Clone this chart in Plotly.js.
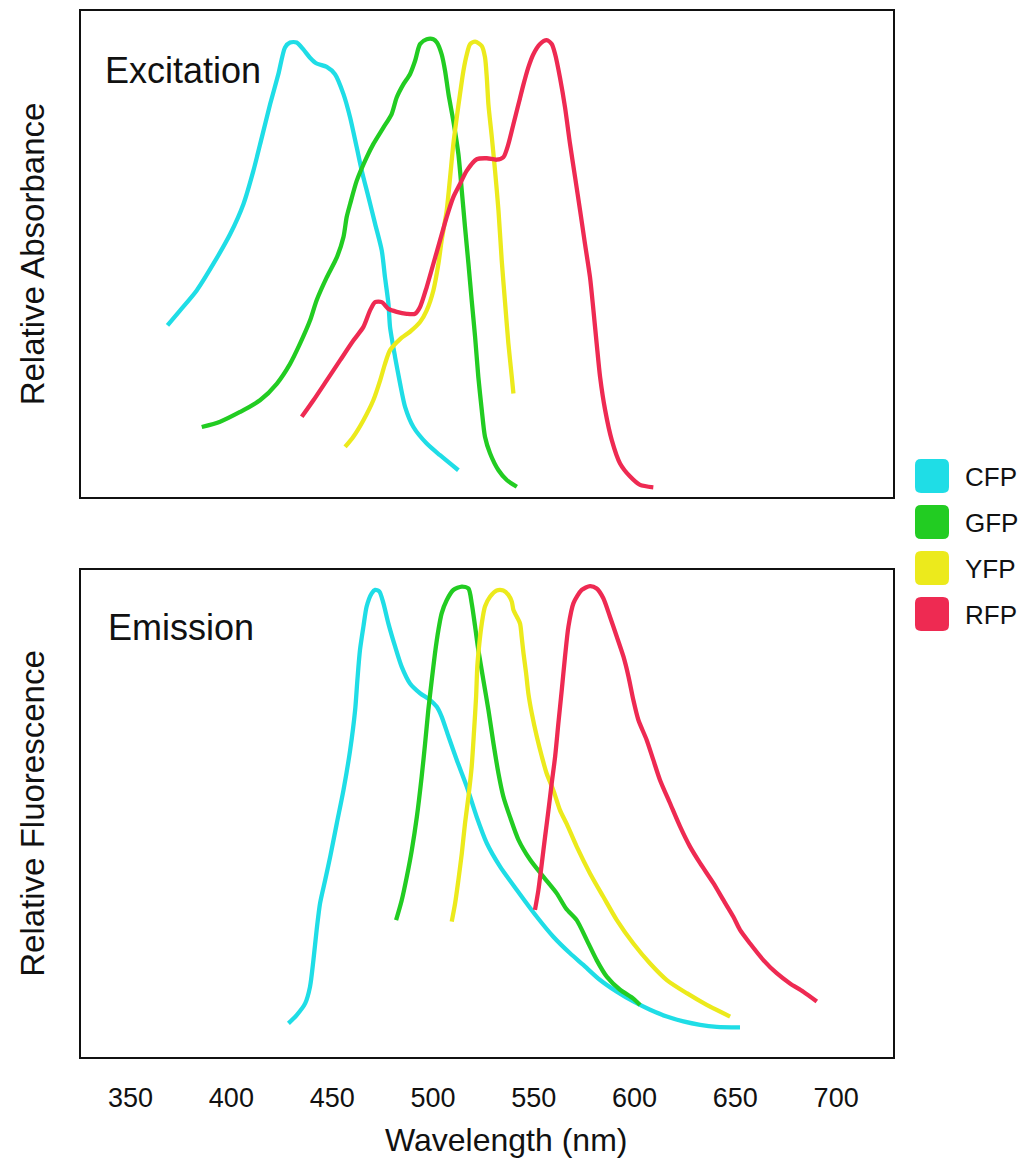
<!DOCTYPE html>
<html>
<head>
<meta charset="utf-8">
<script src="https://cdn.plot.ly/plotly-3.0.1.min.js"></script>
<style>html,body{margin:0;padding:0;background:#fff;}#chart{width:1026px;height:1165px;}</style>
</head>
<body>
<div id="chart"></div>
<script>
// ---------- DATA ----------
const proteins = ['CFP', 'GFP', 'YFP', 'RFP'];
const proteinColors = ['#1fdde6', '#22cc22', '#ecea1c', '#ee2a52'];
const wavelengthTicks = [350, 400, 450, 500, 550, 600, 650, 700];
const wavelengthTickLabels = ['350', '400', '450', '500', '550', '600', '650', '700'];

// Excitation (relative absorbance)
const cfpExX = [368.3,374.6,382.8,391.1,399.4,406.0,410.9,415.1,419.2,423.3,426.6,429.1,432.4,435.7,439.0,442.3,447.3,451.4,455.6,458.9,462.2,464.7,468.0,471.3,474.6,476.2,477.9,478.7,481.2,483.7,486.2,490.3,496.9,503.5,512.6];
const cfpExY = [0.353,0.384,0.425,0.480,0.541,0.603,0.671,0.740,0.808,0.870,0.925,0.935,0.935,0.921,0.904,0.892,0.885,0.870,0.829,0.781,0.719,0.671,0.617,0.562,0.507,0.452,0.398,0.350,0.288,0.233,0.185,0.144,0.110,0.086,0.055];

const gfpExX = [385.3,394.4,404.3,414.2,422.5,429.1,434.1,439.0,442.3,447.3,452.3,455.6,457.2,458.9,462.2,467.1,470.4,475.4,479.5,482.0,485.3,488.6,491.1,493.6,496.9,500.2,502.0,504.3,506.0,507.7,510.1,512.6,514.3,515.9,517.6,519.2,520.9,522.5,524.2,525.8,528.3,532.5,536.6,541.6];
const gfpExY = [0.144,0.155,0.175,0.199,0.233,0.274,0.316,0.363,0.405,0.452,0.493,0.535,0.576,0.603,0.651,0.699,0.726,0.760,0.788,0.822,0.849,0.870,0.897,0.932,0.942,0.942,0.935,0.911,0.877,0.829,0.774,0.706,0.630,0.555,0.480,0.405,0.329,0.247,0.179,0.124,0.090,0.055,0.035,0.021];

const yfpExX = [456.4,460.5,465.5,470.4,473.8,476.2,478.7,483.7,488.6,493.6,496.9,500.2,502.7,504.3,506.8,508.5,510.1,511.8,513.4,515.1,516.8,518.4,520.9,524.2,525.8,526.7,527.5,529.2,530.8,532.5,534.1,535.8,537.4,539.1,539.9];
const yfpExY = [0.103,0.124,0.158,0.199,0.240,0.274,0.302,0.325,0.340,0.360,0.384,0.425,0.480,0.528,0.589,0.658,0.726,0.781,0.829,0.877,0.911,0.932,0.937,0.928,0.905,0.863,0.808,0.740,0.671,0.589,0.487,0.398,0.316,0.247,0.213];

const rfpExX = [434.9,440.7,447.3,453.9,460.5,465.5,468.8,471.3,474.6,477.9,482.0,487.0,491.1,493.6,496.9,500.2,503.5,506.8,510.1,513.4,516.7,521.7,526.7,531.6,534.9,537.4,539.9,542.4,544.9,547.3,549.8,553.1,556.4,558.9,560.6,563.0,565.5,568.0,570.5,573.0,575.4,577.9,579.6,581.2,582.9,585.4,588.7,592.8,597.8,602.7,609.3];
const rfpExY = [0.165,0.199,0.240,0.281,0.322,0.350,0.384,0.401,0.401,0.387,0.381,0.377,0.377,0.391,0.432,0.480,0.528,0.576,0.617,0.644,0.671,0.695,0.697,0.694,0.699,0.726,0.767,0.808,0.849,0.884,0.911,0.932,0.940,0.932,0.911,0.863,0.802,0.726,0.658,0.589,0.521,0.452,0.384,0.316,0.247,0.179,0.117,0.069,0.042,0.025,0.020];

// Emission (relative fluorescence)
const cfpEmX = [428.3,432.4,436.6,439.0,440.7,442.3,444.0,446.5,449.0,452.3,455.6,458.9,461.4,462.5,463.8,465.5,467.1,469.6,471.3,473.4,475.4,477.9,481.2,484.5,488.6,493.6,498.6,501.9,504.3,507.7,511.8,516.8,521.7,526.7,533.3,541.6,551.5,559.7,568.0,574.6,582.9,591.2,599.4,607.7,616.0,624.2,632.5,640.8,652.3];
const cfpEmY = [0.069,0.086,0.110,0.144,0.199,0.261,0.316,0.363,0.411,0.480,0.548,0.630,0.713,0.774,0.836,0.884,0.925,0.952,0.959,0.956,0.932,0.890,0.843,0.801,0.767,0.747,0.733,0.719,0.699,0.658,0.610,0.555,0.493,0.439,0.391,0.343,0.288,0.247,0.213,0.189,0.158,0.134,0.114,0.097,0.083,0.073,0.066,0.062,0.061];

const gfpEmX = [481.7,484.5,487.0,489.5,492.0,494.4,496.1,497.7,499.4,501.0,502.7,504.3,506.8,510.1,514.3,517.6,519.2,520.9,522.5,525.0,527.5,530.0,532.5,534.9,538.2,542.4,548.2,554.8,561.4,566.0,571.3,576.3,581.2,586.2,592.8,599.4,602.7];
const gfpEmY = [0.281,0.322,0.370,0.425,0.493,0.576,0.644,0.713,0.774,0.829,0.877,0.911,0.938,0.959,0.966,0.962,0.932,0.884,0.836,0.774,0.713,0.644,0.582,0.535,0.493,0.446,0.405,0.370,0.336,0.305,0.281,0.240,0.199,0.165,0.138,0.120,0.107];

const yfpEmX = [509.3,511.0,512.6,514.3,515.9,517.6,519.2,520.4,521.4,522.0,523.0,524.2,525.8,528.3,531.6,534.9,537.4,539.1,539.9,541.6,543.2,544.0,544.9,546.2,547.3,549.0,551.5,554.0,556.4,559.7,563.0,566.4,571.3,577.9,584.5,591.2,599.4,607.7,616.0,625.9,635.8,647.4];
const yfpEmY = [0.278,0.316,0.363,0.418,0.480,0.535,0.596,0.671,0.740,0.802,0.849,0.890,0.925,0.945,0.958,0.958,0.949,0.935,0.918,0.904,0.890,0.863,0.829,0.788,0.747,0.706,0.658,0.617,0.582,0.548,0.507,0.478,0.432,0.377,0.329,0.281,0.233,0.192,0.158,0.131,0.107,0.083];

const rfpEmX = [550.6,552.3,554.0,555.6,557.3,558.9,560.6,562.2,563.9,565.5,567.2,569.7,573.8,577.9,581.2,584.5,587.8,591.2,594.5,597.0,599.4,601.9,606.0,609.3,612.6,617.6,622.6,627.5,632.5,639.1,644.1,649.0,652.3,657.3,663.9,670.5,677.1,683.7,690.4];
const rfpEmY = [0.302,0.343,0.398,0.452,0.507,0.562,0.617,0.685,0.754,0.822,0.884,0.932,0.959,0.967,0.962,0.942,0.904,0.863,0.822,0.781,0.733,0.692,0.651,0.610,0.569,0.521,0.473,0.432,0.398,0.357,0.322,0.288,0.261,0.233,0.199,0.172,0.151,0.134,0.114];

const excitationX = [cfpExX, gfpExX, yfpExX, rfpExX];
const excitationY = [cfpExY, gfpExY, yfpExY, rfpExY];
const emissionX = [cfpEmX, gfpEmX, yfpEmX, rfpEmX];
const emissionY = [cfpEmY, gfpEmY, yfpEmY, rfpEmY];

// ---------- LAYOUT GEOMETRY ----------
const W = 1026, H = 1165;
const M = {l: 81, r: 133, t: 11, b: 108};
const plotW = W - M.l - M.r, plotH = H - M.t - M.b;
const px2x = px => (px - M.l) / plotW;
const py2y = py => (H - M.b - py) / plotH;
const FONT = 'Liberation Sans, Arial, Helvetica, sans-serif';
const INK = '#111111';

const traces = [];
proteins.forEach((name, i) => {
  traces.push({
    type: 'scatter', mode: 'lines', name: name + ' excitation',
    x: excitationX[i], y: excitationY[i], xaxis: 'x', yaxis: 'y',
    line: {color: proteinColors[i], width: 4.3, shape: 'spline', smoothing: 0.7},
    showlegend: false, hoverinfo: 'x+name'
  });
  traces.push({
    type: 'scatter', mode: 'lines', name: name + ' emission',
    x: emissionX[i], y: emissionY[i], xaxis: 'x2', yaxis: 'y2',
    line: {color: proteinColors[i], width: 4.3, shape: 'spline', smoothing: 0.7},
    showlegend: false, hoverinfo: 'x+name'
  });
});

const frameAxis = {
  showline: true, mirror: true, linewidth: 2, linecolor: INK,
  showgrid: false, zeroline: false, ticks: '', fixedrange: true
};

// legend as rounded squares + labels
const shapes = [];
const annotations = [];
const swSize = 34, swR = 6, swCx = 932, swCy0 = 476, swStep = 46;
proteins.forEach((name, i) => {
  const cy = swCy0 + i * swStep;
  const x0 = swCx - swSize / 2, x1 = swCx + swSize / 2;
  const y0 = cy - swSize / 2, y1 = cy + swSize / 2;
  const P = (px, py) => px2x(px).toFixed(5) + ',' + py2y(py).toFixed(5);
  const path = 'M' + P(x0 + swR, y0) + ' L' + P(x1 - swR, y0) + ' Q' + P(x1, y0) + ' ' + P(x1, y0 + swR) +
    ' L' + P(x1, y1 - swR) + ' Q' + P(x1, y1) + ' ' + P(x1 - swR, y1) +
    ' L' + P(x0 + swR, y1) + ' Q' + P(x0, y1) + ' ' + P(x0, y1 - swR) +
    ' L' + P(x0, y0 + swR) + ' Q' + P(x0, y0) + ' ' + P(x0 + swR, y0) + ' Z';
  shapes.push({type: 'path', xref: 'paper', yref: 'paper', path: path,
    fillcolor: proteinColors[i], line: {width: 0}});
  annotations.push({xref: 'paper', yref: 'paper', x: px2x(963), y: py2y(cy + 1),
    xanchor: 'left', yanchor: 'middle', text: name, showarrow: false,
    font: {family: FONT, size: 26, color: INK}});
});

annotations.push({xref: 'paper', yref: 'paper', x: px2x(103), y: py2y(70),
  xanchor: 'left', yanchor: 'middle', text: 'Excitation', showarrow: false,
  font: {family: FONT, size: 36, color: INK}});
annotations.push({xref: 'paper', yref: 'paper', x: px2x(106), y: py2y(627),
  xanchor: 'left', yanchor: 'middle', text: 'Emission', showarrow: false,
  font: {family: FONT, size: 36, color: INK}});
annotations.push({xref: 'paper', yref: 'paper', x: px2x(506), y: py2y(1140),
  xanchor: 'center', yanchor: 'middle', text: 'Wavelength (nm)', showarrow: false,
  font: {family: FONT, size: 32, color: INK}});

const layout = {
  width: W, height: H, margin: M,
  paper_bgcolor: '#ffffff', plot_bgcolor: '#ffffff',
  font: {family: FONT, color: INK},
  showlegend: false,
  xaxis: Object.assign({}, frameAxis, {domain: [0, 1], anchor: 'y', range: [325.4, 728.2], showticklabels: false}),
  yaxis: Object.assign({}, frameAxis, {domain: [py2y(497), 1], anchor: 'x', range: [0, 1], showticklabels: false,
    title: {text: 'Relative Absorbance', font: {family: FONT, size: 33, color: INK}, standoff: 24}}),
  xaxis2: Object.assign({}, frameAxis, {domain: [0, 1], anchor: 'y2', matches: 'x', range: [325.4, 728.2],
    tickmode: 'array', tickvals: wavelengthTicks, ticktext: wavelengthTickLabels,
    tickfont: {family: FONT, size: 27, color: INK}, ticklabelstandoff: 16}),
  yaxis2: Object.assign({}, frameAxis, {domain: [0, py2y(570)], anchor: 'x2', range: [0, 1], showticklabels: false,
    title: {text: 'Relative Fluorescence', font: {family: FONT, size: 33, color: INK}, standoff: 24}}),
  shapes: shapes,
  annotations: annotations
};

Plotly.newPlot('chart', traces, layout, {staticPlot: true, displayModeBar: false});
</script>
</body>
</html>
